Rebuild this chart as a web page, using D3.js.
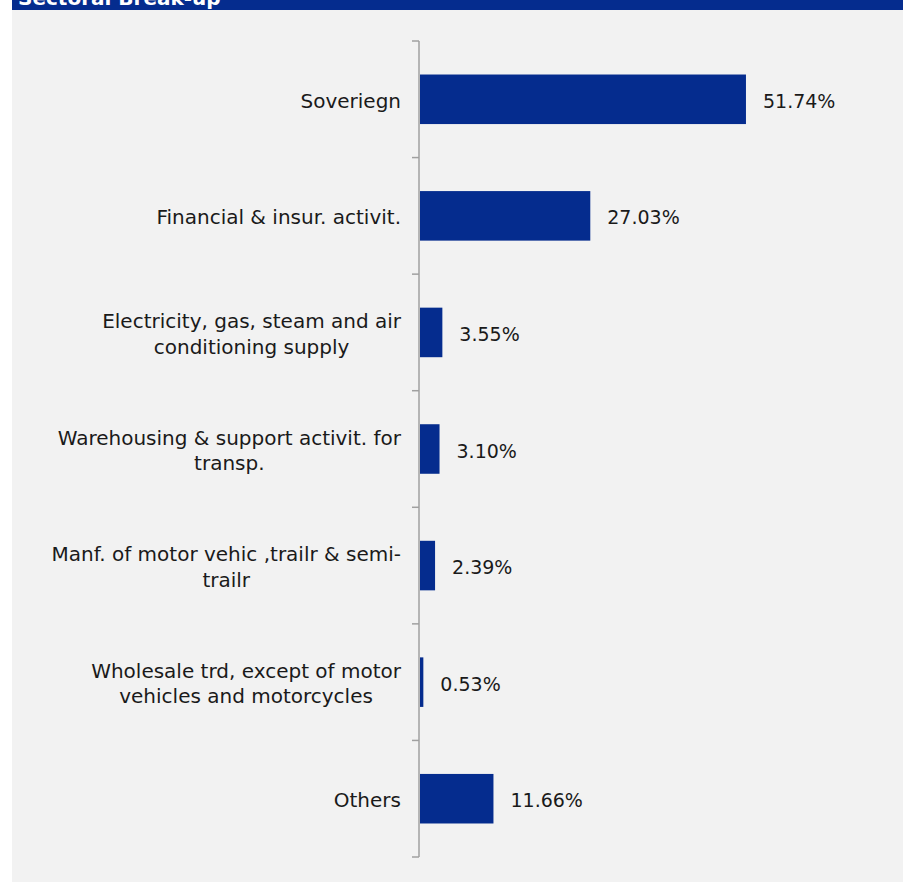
<!DOCTYPE html>
<html>
<head>
<meta charset="utf-8">
<script src="https://cdn.jsdelivr.net/npm/d3@7/dist/d3.min.js"></script>
<style>
  html, body { margin: 0; padding: 0; background: #ffffff; }
  svg { display: block; }
</style>
</head>
<body>
<svg id="chart" width="914" height="882"></svg>
<script>
const title = "Sectoral Break-up";
const categories = [
  ["Soveriegn"],
  ["Financial & insur. activit."],
  ["Electricity, gas, steam and air", "conditioning supply"],
  ["Warehousing & support activit. for", "transp."],
  ["Manf. of motor vehic ,trailr & semi-", "trailr"],
  ["Wholesale trd, except of motor", "vehicles and motorcycles"],
  ["Others"]
];
const values = [51.74, 27.03, 3.55, 3.10, 2.39, 0.53, 11.66];
const valueLabels = ["51.74%", "27.03%", "3.55%", "3.10%", "2.39%", "0.53%", "11.66%"];

const W = 914, H = 882;
const blue = "#052c8e";
const font = "'DejaVu Sans', sans-serif";
const svg = d3.select("#chart");

// panel background
svg.append("rect").attr("x", 12).attr("y", 0).attr("width", 891).attr("height", H).attr("fill", "#f2f2f2");
// header bar
svg.append("rect").attr("x", 12).attr("y", 0).attr("width", 891).attr("height", 10).attr("fill", blue);
svg.append("text").attr("x", 18).attr("y", 5)
  .attr("font-family", font).attr("font-weight", "bold").attr("font-size", 20)
  .attr("fill", "#ffffff").text(title);

const keys = categories.map((c, i) => "c" + i);
const y = d3.scaleBand().domain(keys).range([41, 857]).paddingInner(0.575).paddingOuter(0.2875);
const x = d3.scaleLinear().domain([0, 60]).range([420, 798]);

// bars
svg.append("g").selectAll("rect").data(values).join("rect")
  .attr("x", x(0))
  .attr("y", (d, i) => y(keys[i]))
  .attr("width", d => x(d) - x(0))
  .attr("height", y.bandwidth())
  .attr("fill", blue);

// axis line with ticks at band boundaries
const axisG = svg.append("g");
axisG.append("line").attr("x1", 419).attr("x2", 419).attr("y1", y.range()[0]).attr("y2", y.range()[1])
  .attr("stroke", "#a0a0a0").attr("stroke-width", 1.5);
const tickYs = keys.map(k => y(k) - y.step() * y.paddingOuter()).concat([y.range()[1]]);
axisG.selectAll("line.tick").data(tickYs).join("line").attr("class", "tick")
  .attr("x1", 412).attr("x2", 419).attr("y1", d => d).attr("y2", d => d)
  .attr("stroke", "#a0a0a0").attr("stroke-width", 1.5);

// category labels
const lineH = 25.5;
const labelRight = 401;
categories.forEach((lines, i) => {
  const cy = y(keys[i]) + y.bandwidth() / 2;
  const t = svg.append("text")
    .attr("font-family", font).attr("font-size", 20).attr("fill", "#1a1a1a")
    .attr("text-anchor", "middle");
  const n = lines.length;
  const tsp = lines.map((l, j) => t.append("tspan").text(l)
    .attr("y", cy + 8.5 + (j - (n - 1) / 2) * lineH));
  let maxW = 0;
  tsp.forEach(s => { maxW = Math.max(maxW, s.node().getComputedTextLength()); });
  tsp.forEach(s => s.attr("x", labelRight - maxW / 2));
});

// value labels
svg.append("g").selectAll("text").data(values).join("text")
  .attr("x", d => x(d) + 17)
  .attr("y", (d, i) => y(keys[i]) + y.bandwidth() / 2 + 8.5)
  .attr("font-family", font).attr("font-size", 19).attr("fill", "#1a1a1a")
  .text((d, i) => valueLabels[i]);
</script>
</body>
</html>
